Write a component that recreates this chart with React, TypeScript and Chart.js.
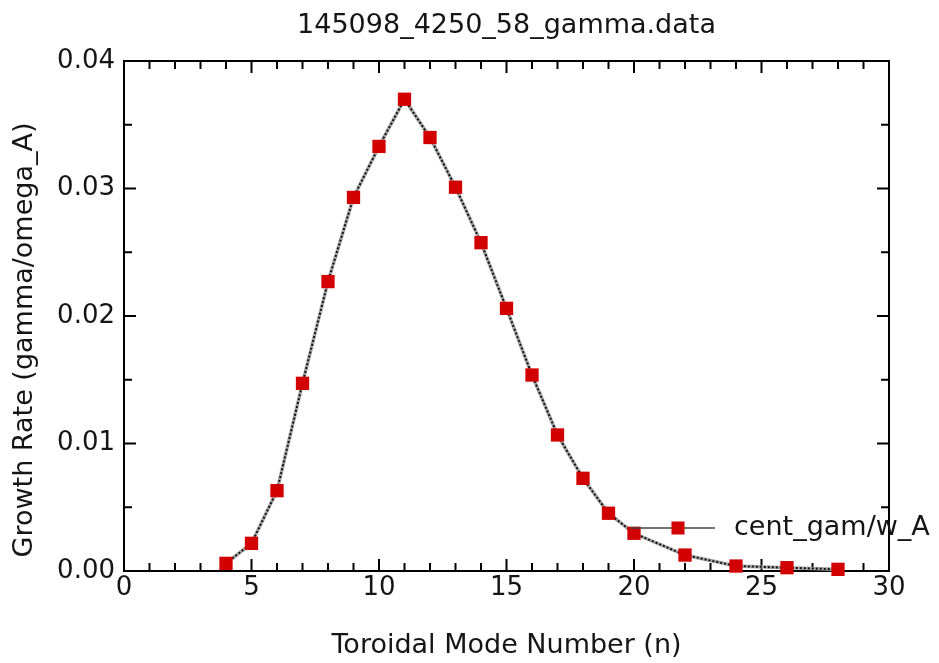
import React, { useEffect, useRef } from "react";
import { Chart, registerables } from "chart.js";

Chart.register(...registerables);

const modeNumbers = [4, 5, 6, 7, 8, 9, 10, 11, 12, 13, 14, 15, 16, 17, 18, 19, 20, 22, 24, 26, 28];
const growthRates = [
  0.0006, 0.00217, 0.0063, 0.01472, 0.0227, 0.0293, 0.0333, 0.037, 0.034, 0.0301, 0.02575,
  0.0206, 0.01537, 0.01067, 0.00727, 0.00453, 0.00296, 0.00125, 0.00039, 0.00026, 0.00013,
];
const xTickValues = [0, 5, 10, 15, 20, 25, 30];
const yTickValues = [0, 0.01, 0.02, 0.03, 0.04];

const chartTitle = "145098_4250_58_gamma.data";
const xTitle = "Toroidal Mode Number (n)";
const yTitle = "Growth Rate (gamma/omega_A)";
const seriesName = "cent_gam/w_A";

const FONT = "'DejaVu Sans', sans-serif";
const MARKER = "#d20000";
const TEXT = "#151515";

const framePlugin = {
  id: "frame",
  beforeDatasetsDraw(chart: any) {
    const { ctx, chartArea: a, scales } = chart;
    const xs = scales.x;
    const ys = scales.y;
    ctx.save();
    ctx.strokeStyle = "#000";
    ctx.lineWidth = 2;
    ctx.strokeRect(a.left, a.top, a.right - a.left, a.bottom - a.top);
    const major = 12;
    const minor = 8;
    ctx.beginPath();
    for (let v = 0; v <= 30; v += 1) {
      const px = xs.getPixelForValue(v);
      const len = v % 5 === 0 ? major : minor;
      ctx.moveTo(px, a.bottom);
      ctx.lineTo(px, a.bottom - len);
      ctx.moveTo(px, a.top);
      ctx.lineTo(px, a.top + len);
    }
    for (let i = 0; i <= 8; i++) {
      const v = i * 0.005;
      const py = ys.getPixelForValue(v);
      const len = i % 2 === 0 ? major : minor;
      ctx.moveTo(a.left, py);
      ctx.lineTo(a.left + len, py);
      ctx.moveTo(a.right, py);
      ctx.lineTo(a.right - len, py);
    }
    ctx.stroke();

    // y-axis title
    ctx.save();
    ctx.translate(25, (a.top + a.bottom) / 2 + 24);
    ctx.rotate(-Math.PI / 2);
    ctx.fillStyle = TEXT;
    ctx.font = `27px ${FONT}`;
    ctx.textAlign = "center";
    ctx.textBaseline = "middle";
    ctx.fillText(yTitle, 0, 0);
    ctx.restore();
    ctx.restore();
  },
  afterDraw(chart: any) {
    const { ctx, chartArea: a } = chart;
    const y = a.bottom - 43;
    const x1 = a.right - 259;
    const x2 = a.right - 174;
    const xm = a.right - 211;
    ctx.save();
    ctx.strokeStyle = "#444";
    ctx.lineWidth = 1.5;
    ctx.beginPath();
    ctx.moveTo(x1, y);
    ctx.lineTo(x2, y);
    ctx.stroke();
    ctx.fillStyle = MARKER;
    ctx.fillRect(xm - 6.5, y - 6.5, 13, 13);
    ctx.fillStyle = TEXT;
    ctx.font = `27px ${FONT}`;
    ctx.textBaseline = "middle";
    ctx.textAlign = "left";
    ctx.fillText(seriesName, a.right - 155, y);
    ctx.restore();
  },
};

export default function App() {
  const ref = useRef<HTMLCanvasElement | null>(null);
  useEffect(() => {
    document.body.style.margin = "0";
    const points = modeNumbers.map((n, i) => ({ x: n, y: growthRates[i] }));
    const chart = new Chart(ref.current as HTMLCanvasElement, {
      type: "scatter",
      data: {
        datasets: [
          {
            label: seriesName,
            data: points,
            showLine: false,
            pointStyle: "rect",
            pointRadius: 9.4,
            pointBackgroundColor: MARKER,
            pointBorderWidth: 0,
            pointBorderColor: MARKER,
            clip: false,
          },
          {
            label: "dots",
            data: points,
            showLine: true,
            borderColor: "#111",
            borderWidth: 2,
            borderDash: [2, 2],
            pointRadius: 0,
            clip: false,
          },
          {
            label: "line",
            data: points,
            showLine: true,
            borderColor: "#a8a8a8",
            borderWidth: 3.5,
            pointRadius: 0,
            clip: false,
          },
        ],
      } as any,
      options: {
        animation: false,
        responsive: false,
        events: [],
        layout: { padding: { left: 0, right: 50, top: 0, bottom: 0 } },
        plugins: {
          legend: { display: false },
          tooltip: { enabled: false },
          title: {
            display: true,
            fullSize: false,
            text: chartTitle,
            color: TEXT,
            font: { family: FONT, size: 27, weight: "normal" },
            padding: { top: 10, bottom: 18.6 },
          },
        },
        scales: {
          x: {
            type: "linear",
            min: 0,
            max: 30,
            afterBuildTicks: (s: any) => {
              s.ticks = xTickValues.map((v) => ({ value: v }));
            },
            afterFit: (s: any) => {
              s.height = 92;
            },
            grid: { display: false, drawTicks: false },
            border: { display: false },
            ticks: {
              color: TEXT,
              font: { family: FONT, size: 26 },
              padding: 2,
              maxRotation: 0,
              callback: (v: any) => String(v),
            },
            title: {
              display: true,
              text: xTitle,
              color: TEXT,
              font: { family: FONT, size: 27 },
              padding: { top: 0, bottom: 1 },
            },
          },
          y: {
            type: "linear",
            min: 0,
            max: 0.04,
            afterBuildTicks: (s: any) => {
              s.ticks = yTickValues.map((v) => ({ value: v }));
            },
            afterFit: (s: any) => {
              s.width = 124;
            },
            grid: { display: false, drawTicks: false },
            border: { display: false },
            ticks: {
              color: TEXT,
              font: { family: FONT, size: 26 },
              padding: 9,
              callback: (v: any) => Number(v).toFixed(2),
            },
            title: { display: false },
          },
        },
      } as any,
      plugins: [framePlugin],
    });
    return () => chart.destroy();
  }, []);
  return <canvas ref={ref} width={939} height={663} style={{ display: "block" }} />;
}
